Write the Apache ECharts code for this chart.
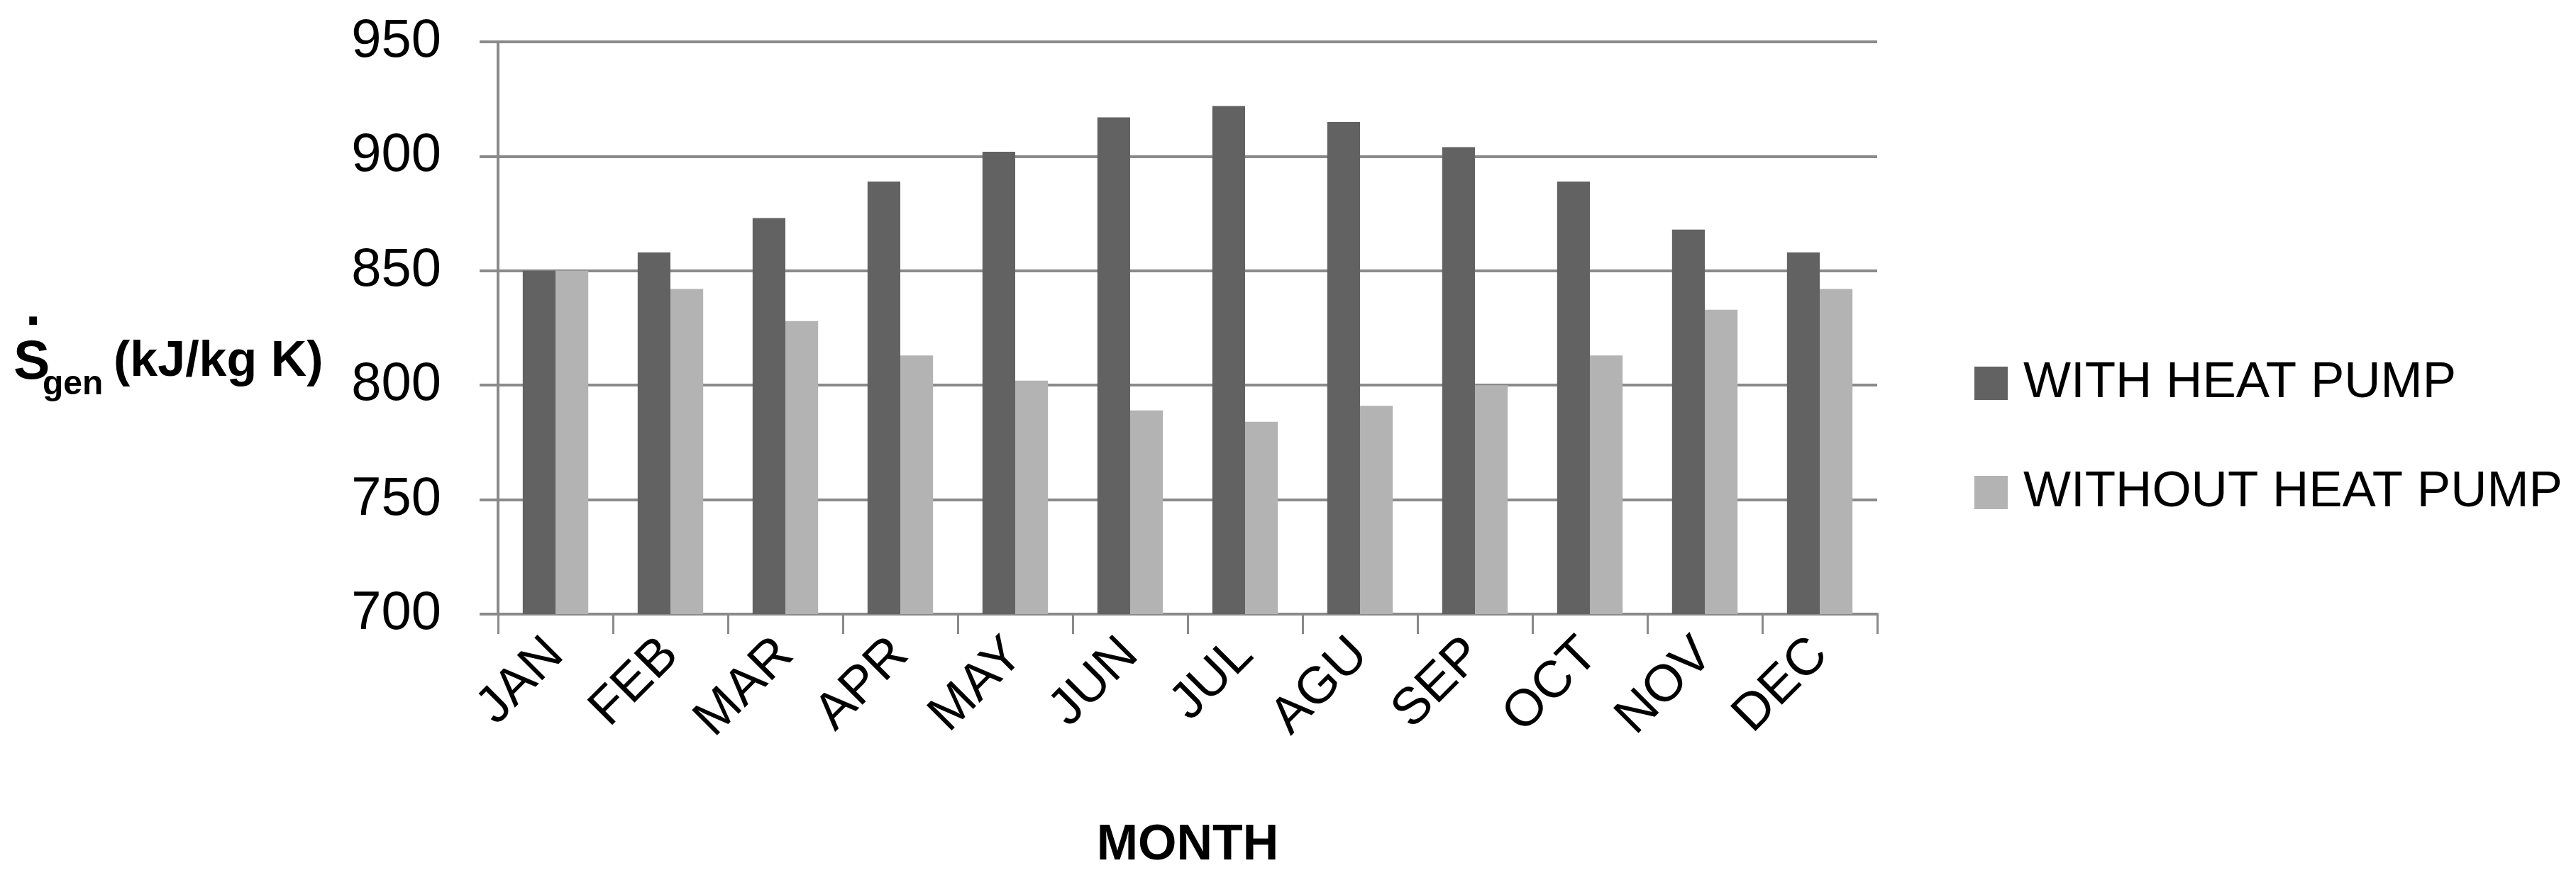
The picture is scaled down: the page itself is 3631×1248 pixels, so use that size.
<!DOCTYPE html>
<html>
<head>
<meta charset="utf-8">
<script src="https://cdn.jsdelivr.net/npm/echarts@6/dist/echarts.min.js"></script>
<style>
  html, body { margin: 0; padding: 0; background: #fff; }
  #chart { width: 3631px; height: 1248px; }
</style>
</head>
<body>
<div id="chart"></div>
<script>
  // months as written on the original chart
  const months = ['JAN', 'FEB', 'MAR', 'APR', 'MAY', 'JUN', 'JUL', 'AGU', 'SEP', 'OCT', 'NOV', 'DEC']
  const withHeatPump = [850, 858, 873, 889, 902, 917, 922, 915, 904, 889, 868, 858]
  const withoutHeatPump = [850, 842, 828, 813, 802, 789, 784, 791, 800, 813, 833, 842]
  const seriesNames = ['WITH HEAT PUMP', 'WITHOUT HEAT PUMP']
  const yTicks = { min: 700, max: 950, step: 50 }

  const font = 'Liberation Sans'
  const gridColor = '#8a8a8a'

  const chart = echarts.init(document.getElementById('chart'))

  const option = {
    backgroundColor: '#fff',
    animation: false,
    grid: {
      left: 702,
      right: 985,
      top: 59,
      bottom: 382
    },
    legend: {
      data: seriesNames,
      orient: 'vertical',
      left: 2778,
      top: 500,
      itemWidth: 47,
      itemHeight: 47,
      itemGap: 83,
      icon: 'rect',
      textStyle: {
        fontFamily: font,
        fontSize: 71,
        color: '#000',
        padding: [0, 0, 0, 17]
      }
    },
    xAxis: {
      type: 'category',
      data: months,
      name: 'MONTH',
      nameLocation: 'middle',
      nameGap: 292,
      nameTextStyle: {
        fontFamily: font,
        fontSize: 70,
        fontWeight: 'bold',
        color: '#000'
      },
      axisLine: { show: true, lineStyle: { color: gridColor, width: 4 } },
      axisTick: { show: true, length: 28, lineStyle: { color: gridColor, width: 3 } },
      axisLabel: {
        rotate: 45,
        margin: 46,
        fontFamily: font,
        fontSize: 73,
        color: '#000'
      }
    },
    yAxis: {
      type: 'value',
      min: yTicks.min,
      max: yTicks.max,
      interval: yTicks.step,
      axisLine: { show: true, lineStyle: { color: gridColor, width: 4 } },
      axisTick: { show: true, length: 26, lineStyle: { color: gridColor, width: 4 } },
      axisLabel: {
        margin: 80,
        fontFamily: font,
        fontSize: 76,
        color: '#000'
      },
      splitLine: { show: true, lineStyle: { color: gridColor, width: 4 } }
    },
    series: [
      {
        name: seriesNames[0],
        type: 'bar',
        data: withHeatPump,
        barGap: '0%',
        barCategoryGap: '43%',
        itemStyle: { color: '#626262' }
      },
      {
        name: seriesNames[1],
        type: 'bar',
        data: withoutHeatPump,
        itemStyle: { color: '#b3b3b3' }
      }
    ],
    // y axis title: S with a dot above and "gen" subscript
    graphic: [
      {
        type: 'text',
        left: 36,
        top: 398,
        style: { text: '.', fontFamily: font, fontSize: 77, fontWeight: 'bold', fill: '#000' }
      },
      {
        type: 'text',
        left: 19,
        top: 474,
        style: { text: 'S', fontFamily: font, fontSize: 77, fontWeight: 'bold', fill: '#000' }
      },
      {
        type: 'text',
        left: 60,
        top: 519,
        style: { text: 'gen', fontFamily: font, fontSize: 48, fontWeight: 'bold', fill: '#000' }
      },
      {
        type: 'text',
        left: 160,
        top: 476,
        style: { text: '(kJ/kg K)', fontFamily: font, fontSize: 70, fontWeight: 'bold', fill: '#000' }
      }
    ]
  }

  chart.setOption(option)
</script>
</body>
</html>
